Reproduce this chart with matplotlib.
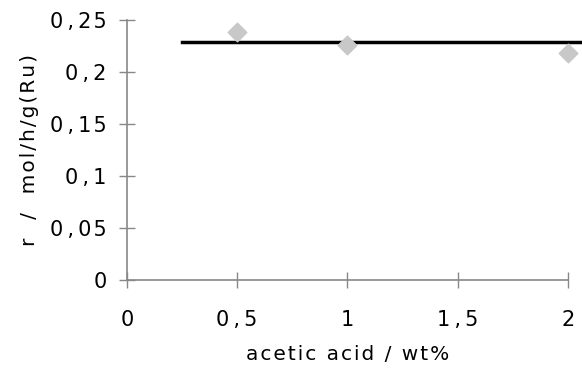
import matplotlib
matplotlib.use("Agg")
import matplotlib.pyplot as plt
from matplotlib.ticker import FuncFormatter

plt.rcParams['font.family'] = ['DejaVu Sans']

x_vals = [0.5, 1.0, 2.0]
r_vals = [0.239, 0.226, 0.218]
line_x = [0.25, 2.07]
line_y = [0.229, 0.229]
x_ticks = [0, 0.5, 1, 1.5, 2]
y_ticks = [0, 0.05, 0.1, 0.15, 0.2, 0.25]

HS = '\u200a'
TS = '\u2009'

def spaced(s, sep=HS):
    return sep.join(s)

fig = plt.figure(figsize=(5.82, 3.73), dpi=100)
ax = fig.add_axes([0.218, 0.249, 0.758, 0.697])

ax.plot(line_x, line_y, color='black', lw=2.5, clip_on=False, zorder=2)
ax.scatter(x_vals, r_vals, marker='D', s=90, color='#c8c8c8', zorder=3, clip_on=False)

ax.set_xlim(0, 2)
ax.set_ylim(0, 0.25)
ax.set_xticks(x_ticks)
ax.set_yticks(y_ticks)

def fmt(v, pos):
    s = '%g' % round(v, 3)
    if '.' in s:
        a, b = s.split('.')
        return spaced(a) + TS + ',' + TS + spaced(b)
    return spaced(s)
ax.xaxis.set_major_formatter(FuncFormatter(fmt))
ax.yaxis.set_major_formatter(FuncFormatter(fmt))

for s in ['top', 'right']:
    ax.spines[s].set_visible(False)
for s in ['left', 'bottom']:
    ax.spines[s].set_color('#888888')
    ax.spines[s].set_linewidth(1.2)

ax.tick_params(axis='both', direction='inout', length=11, width=1, color='#888888',
               labelsize=15)
ax.tick_params(axis='y', pad=9)
ax.tick_params(axis='x', pad=16)

ax.set_xlabel(spaced('acetic acid / wt%'), fontsize=14.5, labelpad=11)
ax.set_ylabel(spaced('r  /  mol/h/g(Ru)'), fontsize=14.5, labelpad=8)

fig.savefig('out.png', dpi=100)
